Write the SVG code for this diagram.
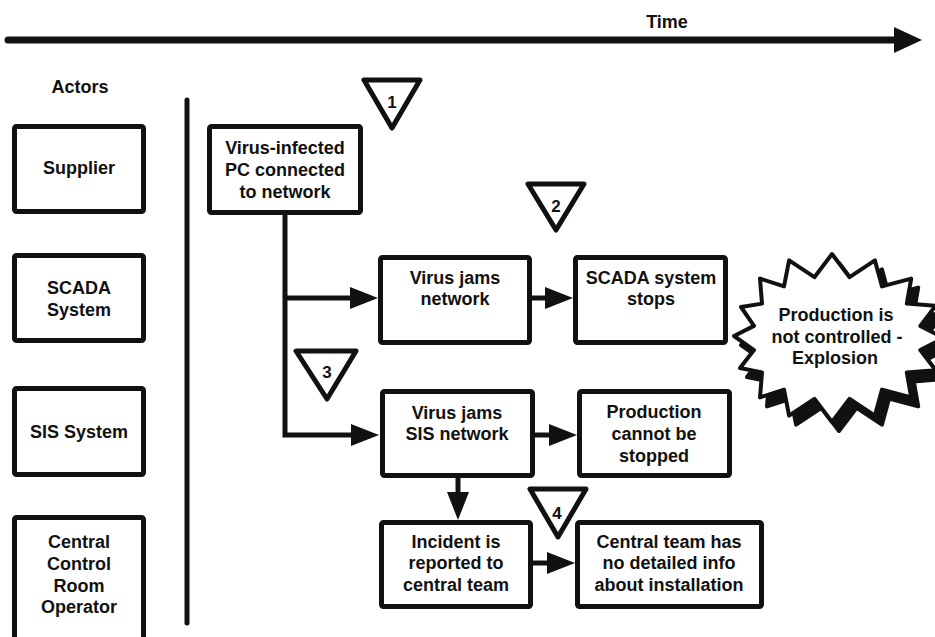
<svg xmlns="http://www.w3.org/2000/svg" width="935" height="637" viewBox="0 0 935 637">
<defs>
<style>
.box{fill:#fff;stroke:#111;stroke-width:5;}
.t{font-family:"Liberation Sans",Arial,Helvetica,sans-serif;font-weight:bold;font-size:18px;fill:#111;text-anchor:middle;}
.n{font-family:"Liberation Sans",Arial,Helvetica,sans-serif;font-weight:bold;font-size:17px;fill:#111;text-anchor:middle;}
.tri{fill:#fff;stroke:#111;stroke-width:5;stroke-linejoin:round;}
.c{fill:none;stroke:#111;stroke-width:5;}
</style>
<marker id="ah" viewBox="0 0 28 22" markerWidth="28" markerHeight="22" markerUnits="userSpaceOnUse" refX="2" refY="11" orient="auto">
<path d="M0,0 L28,11 L0,22 Z" fill="#111"/>
</marker>
<marker id="bigah" viewBox="0 0 28 26" markerWidth="28" markerHeight="26" markerUnits="userSpaceOnUse" refX="2" refY="13" orient="auto">
<path d="M0,0 L28,13 L0,26 Z" fill="#111"/>
</marker>
</defs>
<rect width="935" height="637" fill="#fff"/>

<g id="timeline">
<path d="M8,40 H896" fill="none" stroke="#111" stroke-width="7" stroke-linecap="round" marker-end="url(#bigah)"/>
<text class="t" x="667" y="28">Time</text>
</g>
<g id="actors-title"><text class="t" x="80" y="93">Actors</text></g>
<g id="divider"><path d="M187,100 V623" stroke="#111" stroke-width="5" stroke-linecap="round"/></g>

<g id="actor-supplier"><rect class="box" x="14.5" y="126.5" width="129" height="85" rx="2"/><text class="t" x="79" y="174">Supplier</text></g>
<g id="actor-scada"><rect class="box" x="14.5" y="255.5" width="129" height="85" rx="2"/><text class="t" x="79" y="294">SCADA</text><text class="t" x="79" y="316">System</text></g>
<g id="actor-sis"><rect class="box" x="14.5" y="388.5" width="129" height="86" rx="2"/><text class="t" x="79" y="438">SIS System</text></g>
<g id="actor-central"><rect class="box" x="14.5" y="517.5" width="129" height="130" rx="2"/><text class="t" x="79" y="548">Central</text><text class="t" x="79" y="570">Control</text><text class="t" x="79" y="592">Room</text><text class="t" x="79" y="613">Operator</text></g>

<g id="connectors">
<path class="c" d="M285,215 V435 H353" marker-end="url(#ah)"/>
<path class="c" d="M285,298 H352" marker-end="url(#ah)"/>
<path class="c" d="M532,298 H547" marker-end="url(#ah)"/>
<path class="c" d="M535,435 H551" marker-end="url(#ah)"/>
<path class="c" d="M458,478 V494" marker-end="url(#ah)"/>
<path class="c" d="M533,563 H549" marker-end="url(#ah)"/>
</g>

<g id="n1"><rect class="box" x="209.5" y="126.5" width="151" height="86" rx="2"/><text class="t" x="285" y="154">Virus-infected</text><text class="t" x="285" y="176">PC connected</text><text class="t" x="285" y="198">to network</text></g>
<g id="n2"><rect class="box" x="380.5" y="257.5" width="149" height="85" rx="2"/><text class="t" x="455" y="284">Virus jams</text><text class="t" x="455" y="305">network</text></g>
<g id="n3"><rect class="box" x="575.5" y="257.5" width="150" height="85" rx="2"/><text class="t" x="651" y="284">SCADA system</text><text class="t" x="651" y="305">stops</text></g>
<g id="n4"><rect class="box" x="382.5" y="391.5" width="150" height="84" rx="2"/><text class="t" x="457" y="419">Virus jams</text><text class="t" x="457" y="440">SIS network</text></g>
<g id="n5"><rect class="box" x="579.5" y="391.5" width="150" height="84" rx="2"/><text class="t" x="654" y="418">Production</text><text class="t" x="654" y="440">cannot be</text><text class="t" x="654" y="462">stopped</text></g>
<g id="n6"><rect class="box" x="381.5" y="522.5" width="149" height="84" rx="2"/><text class="t" x="456" y="548">Incident is</text><text class="t" x="456" y="569">reported to</text><text class="t" x="456" y="591">central team</text></g>
<g id="n7"><rect class="box" x="577.5" y="522.5" width="184" height="84" rx="2"/><text class="t" x="669" y="548">Central team has</text><text class="t" x="669" y="569">no detailed info</text><text class="t" x="669" y="591">about installation</text></g>

<g id="explosion">
<polygon transform="translate(7,9)" fill="#111" stroke="#111" stroke-width="4" stroke-linejoin="round" points="944,338 920.3,350.1 935.5,370.1 906.8,372.4 911.2,397.4 882,389.6 874.9,415.6 849.6,398.8 832,422 814.4,398.8 789.1,415.6 784,389.6 760,397.4 762,372.4 740,368 754,350.1 734,336 754,325.9 741,307 762,303.6 760,278.6 784,286.4 789.1,260.4 814.4,277.2 832,254 849.6,277.2 874.9,260.4 882,286.4 911.2,278.6 906.8,303.6 935.5,305.9 920.3,325.9"/>
<polygon fill="#fff" stroke="#111" stroke-width="4" stroke-linejoin="round" points="944,338 920.3,350.1 935.5,370.1 906.8,372.4 911.2,397.4 882,389.6 874.9,415.6 849.6,398.8 832,422 814.4,398.8 789.1,415.6 784,389.6 760,397.4 762,372.4 740,368 754,350.1 734,336 754,325.9 741,307 762,303.6 760,278.6 784,286.4 789.1,260.4 814.4,277.2 832,254 849.6,277.2 874.9,260.4 882,286.4 911.2,278.6 906.8,303.6 935.5,305.9 920.3,325.9"/>
<text class="t" x="836" y="321">Production is</text>
<text class="t" x="837" y="343">not controlled -</text>
<text class="t" x="835" y="364">Explosion</text>
</g>

<g id="marker1"><polygon class="tri" points="364,80 420,80 392,128"/><text class="n" x="392" y="108">1</text></g>
<g id="marker2"><polygon class="tri" points="528,184 584,184 556,230"/><text class="n" x="556" y="212">2</text></g>
<g id="marker3"><polygon class="tri" points="296,351 356,351 327,399"/><text class="n" x="327" y="378">3</text></g>
<g id="marker4"><polygon class="tri" points="530,489 586,489 558,537"/><text class="n" x="557" y="519">4</text></g>
</svg>
